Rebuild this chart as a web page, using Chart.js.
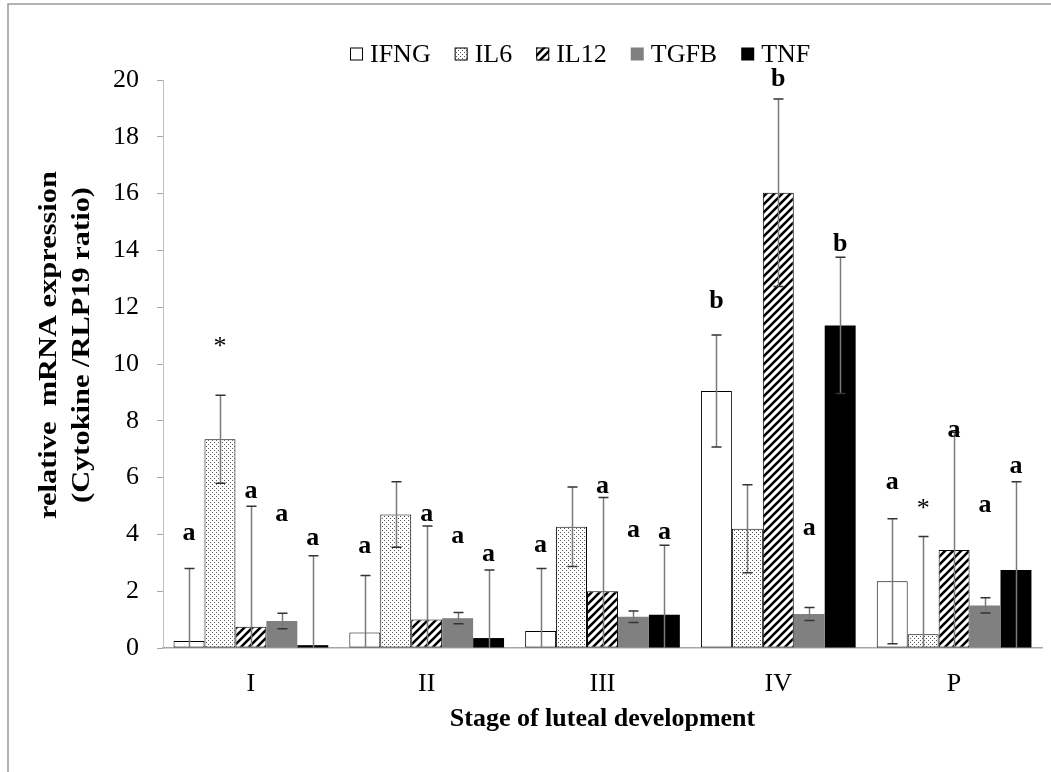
<!DOCTYPE html>
<html>
<head>
<meta charset="utf-8">
<script src="https://cdn.jsdelivr.net/npm/chart.js@4.4.1/dist/chart.umd.min.js"></script>
<style>
  html, body { margin: 0; padding: 0; background: #fff; }
</style>
</head>
<body>
<canvas id="canvas" width="1051" height="772"></canvas>
<script>
// stages of luteal development and the five cytokines
const categories = ['I', 'II', 'III', 'IV', 'P'];
const seriesNames = ['IFNG', 'IL6', 'IL12', 'TGFB', 'TNF'];

// mean relative expression
const ifng = [0.25, 0.55, 0.6, 9.05, 2.35];
const il6  = [7.35, 4.7, 4.27, 4.2, 0.48];
const il12 = [0.75, 1.0, 2.0, 16.03, 3.45];
const tgfb = [0.95, 1.05, 1.1, 1.2, 1.5];
const tnf  = [0.1, 0.35, 1.17, 11.36, 2.75];

// error (± SEM)
const ifngErr = [2.55, 2.0, 2.2, 1.97, 2.2];
const il6Err  = [1.55, 1.15, 1.4, 1.55, 3.45];
const il12Err = [4.24, 3.3, 3.3, 3.3, 4.15];
const tgfbErr = [0.27, 0.2, 0.2, 0.23, 0.27];
const tnfErr  = [3.15, 2.4, 2.45, 2.4, 3.1];

// significance letters and the value they sit at
const ifngMark = ['a', 'a', 'a', 'b', 'a'];
const il6Mark  = ['*', '', '', '', '*'];
const il12Mark = ['a', 'a', 'a', 'b', 'a'];
const tgfbMark = ['a', 'a', 'a', 'a', 'a'];
const tnfMark  = ['a', 'a', 'a', 'b', 'a'];
const ifngMarkAt = [4.15, 3.69, 3.74, 12.2, 5.94];
const il6MarkAt  = [10.78, 0, 0, 0, 5.06];
const il12MarkAt = [5.64, 4.8, 5.8, 20.03, 7.77];
const tgfbMarkAt = [4.8, 4.04, 4.26, 4.32, 5.13];
const tnfMarkAt  = [3.98, 3.39, 4.19, 14.23, 6.49];

const FONT = '"Liberation Serif", "Times New Roman", serif';

function dotPattern() {
  const c = document.createElement('canvas');
  c.width = 4; c.height = 4;
  const g = c.getContext('2d');
  g.fillStyle = '#fff';
  g.fillRect(0, 0, 4, 4);
  g.fillStyle = '#555';
  g.fillRect(0, 0, 1, 1);
  g.fillRect(2, 2, 1, 1);
  return g.createPattern(c, 'repeat');
}

function hatchPattern() {
  const s = 8;
  const c = document.createElement('canvas');
  c.width = s; c.height = s;
  const g = c.getContext('2d');
  g.fillStyle = '#fff';
  g.fillRect(0, 0, s, s);
  g.strokeStyle = '#000';
  g.lineWidth = 2.6;
  g.beginPath();
  g.moveTo(-2, s + 2); g.lineTo(s + 2, -2);
  g.moveTo(-2, 2); g.lineTo(2, -2);
  g.moveTo(s - 2, s + 2); g.lineTo(s + 2, s - 2);
  g.stroke();
  return g.createPattern(c, 'repeat');
}

const values = [ifng, il6, il12, tgfb, tnf];
const errors = [ifngErr, il6Err, il12Err, tgfbErr, tnfErr];
const marks = [ifngMark, il6Mark, il12Mark, tgfbMark, tnfMark];
const markAt = [ifngMarkAt, il6MarkAt, il12MarkAt, tgfbMarkAt, tnfMarkAt];
const fills = ['#ffffff', dotPattern(), hatchPattern(), '#808080', '#000000'];
const borders = ['#000', '#000', '#000', '#808080', '#000'];
const borderWidths = [1, 1, 1, 0, 0];

const datasets = seriesNames.map((name, i) => ({
  label: name,
  data: values[i],
  errors: errors[i],
  marks: marks[i],
  markAt: markAt[i],
  backgroundColor: fills[i],
  borderColor: borders[i],
  borderWidth: borderWidths[i],
  borderSkipped: false,
  barPercentage: 1.0,
  categoryPercentage: 0.88
}));

// grey frame round the figure
const framePlugin = {
  id: 'frame',
  beforeDraw(chart) {
    const ctx = chart.ctx;
    ctx.save();
    ctx.strokeStyle = '#999';
    ctx.lineWidth = 1.5;
    ctx.beginPath();
    ctx.moveTo(8, chart.height);
    ctx.lineTo(8, 4);
    ctx.lineTo(chart.width, 4);
    ctx.stroke();
    ctx.restore();
  }
};

// error bars, clipped at the x axis
const errorBars = {
  id: 'errorBars',
  afterDatasetsDraw(chart) {
    const ctx = chart.ctx, y = chart.scales.y, a = chart.chartArea;
    ctx.save();
    ctx.beginPath();
    ctx.rect(a.left, 0, a.right - a.left, a.bottom);
    ctx.clip();
    chart.data.datasets.forEach((ds, i) => {
      chart.getDatasetMeta(i).data.forEach((bar, j) => {
        const v = ds.data[j], e = ds.errors[j];
        const yt = y.getPixelForValue(v + e);
        const yb = y.getPixelForValue(v - e);
        const x = Math.round(bar.x) + 0.5;
        ctx.strokeStyle = '#7a7a7a';
        ctx.lineWidth = 1.5;
        ctx.beginPath();
        ctx.moveTo(x, yt); ctx.lineTo(x, yb);
        ctx.stroke();
        ctx.strokeStyle = '#333';
        ctx.beginPath();
        ctx.moveTo(x - 5, yt); ctx.lineTo(x + 5, yt);
        ctx.moveTo(x - 5, yb); ctx.lineTo(x + 5, yb);
        ctx.stroke();
      });
    });
    ctx.restore();
  }
};

// letters above the bars, legend and y title
const annotations = {
  id: 'annotations',
  afterDraw(chart) {
    const ctx = chart.ctx, y = chart.scales.y;
    ctx.save();
    ctx.fillStyle = '#000';
    ctx.textAlign = 'center';
    ctx.textBaseline = 'middle';
    chart.data.datasets.forEach((ds, i) => {
      chart.getDatasetMeta(i).data.forEach((bar, j) => {
        const t = ds.marks[j];
        if (!t) return;
        const star = t === '*';
        ctx.font = (star ? '' : 'bold ') + '26px ' + FONT;
        const off = star ? 5 : (t === 'a' ? 3 : 0);
        ctx.fillText(t, bar.x, y.getPixelForValue(ds.markAt[j]) + off);
      });
    });

    // legend
    let lx = 350;
    const ly = 54;
    ctx.font = '26px ' + FONT;
    ctx.textAlign = 'left';
    chart.data.datasets.forEach((ds) => {
      ctx.fillStyle = ds.backgroundColor;
      ctx.fillRect(lx, ly - 6.5, 13, 13);
      if (ds.borderWidth) {
        ctx.strokeStyle = '#000';
        ctx.lineWidth = 1;
        ctx.strokeRect(lx + 0.5, ly - 6, 12, 12);
      }
      ctx.fillStyle = '#000';
      ctx.fillText(ds.label, lx + 20, ly + 1);
      lx += 20 + ctx.measureText(ds.label).width + 24;
    });

    // y axis title (stretched a little along its length, as in the figure)
    ctx.font = 'bold 26px ' + FONT;
    ctx.textAlign = 'center';
    ctx.translate(49, 345);
    ctx.rotate(-Math.PI / 2);
    ctx.scale(1.17, 1);
    ctx.fillText('relative  mRNA expression', 0, 0);
    ctx.fillText('(Cytokine /RLP19 ratio)', 0, 33);
    ctx.restore();
  }
};

let options = {
  type: 'bar',
  data: {
    labels: categories,
    datasets: datasets
  },
  options: {
    responsive: false,
    animation: false,
    layout: {
      padding: { left: 0, right: 9, top: 80, bottom: 0 }
    },
    plugins: {
      legend: { display: false },
      tooltip: { enabled: false }
    },
    scales: {
      x: {
        afterFit: (s) => { s.height = 124; },
        grid: { display: false, drawTicks: false },
        border: { display: true, color: '#a6a6a6', width: 1.5 },
        ticks: {
          color: '#000',
          padding: 21,
          font: { family: FONT, size: 26 }
        },
        title: {
          display: true,
          text: 'Stage of luteal development',
          color: '#000',
          font: { family: FONT, size: 26, weight: 'bold' },
          padding: { top: 0, bottom: 37 }
        }
      },
      y: {
        min: 0,
        max: 20,
        afterFit: (s) => { s.width = 163; },
        grid: {
          drawOnChartArea: false,
          drawTicks: true,
          tickLength: 6,
          color: '#a6a6a6'
        },
        border: { display: true, color: '#c0c0c0', width: 1 },
        ticks: {
          stepSize: 2,
          color: '#000',
          padding: 18,
          font: { family: FONT, size: 26 }
        }
      }
    }
  },
  plugins: [framePlugin, errorBars, annotations]
};

let chart = new Chart(document.getElementById('canvas'), options);
</script>
</body>
</html>
